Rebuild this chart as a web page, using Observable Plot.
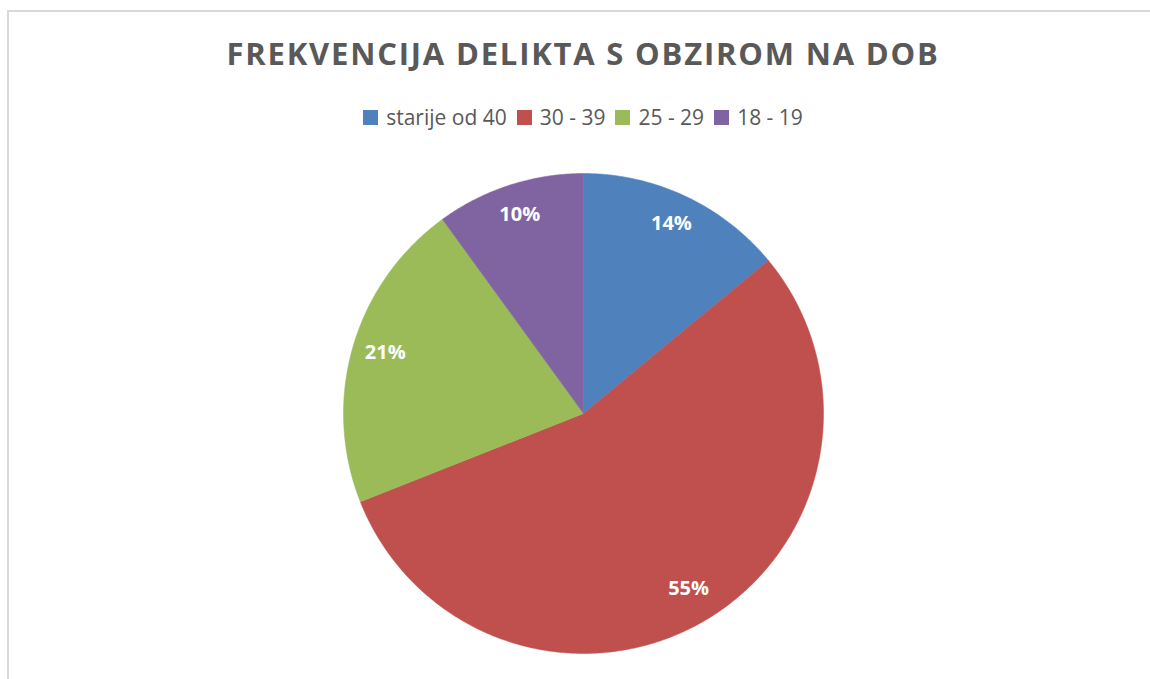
<!DOCTYPE html>
<html>
<head>
<meta charset="utf-8">
<script src="https://cdn.jsdelivr.net/npm/d3@7"></script>
<script src="https://cdn.jsdelivr.net/npm/@observablehq/plot@0.6"></script>
<style>
  html, body { margin: 0; padding: 0; background: #fff; overflow: hidden; width: 1150px; height: 679px; }
  #frame { position: absolute; left: 7px; top: 10px; width: 1200px; height: 700px;
           border-top: 2px solid #d9d9d9; border-left: 2px solid #d9d9d9; }
  #wrap { position: absolute; left: 0; top: 0; width: 1166px; }
  #title { position: absolute; top: 32px; left: 0; width: 1166px; text-align: center;
           font-family: "Open Sans", sans-serif; font-weight: 700; font-size: 31px;
           letter-spacing: 1.8px; color: #595959; }
  #legend { position: absolute; top: 103px; left: 0; width: 1166px; display: flex; justify-content: center;
            font-family: "Open Sans", sans-serif; font-size: 21px; color: #595959; }
  .item { display: flex; align-items: center; margin: 0 5px; }
  .sw { width: 15px; height: 15px; margin-right: 8px; }
  #chart { position: absolute; top: 150px; left: 0; }
</style>
</head>
<body>
<div id="frame"></div>
<div id="wrap">
  <div id="title"></div>
  <div id="legend"></div>
</div>
<div id="chart"></div>
<script>
const title = "FREKVENCIJA DELIKTA S OBZIROM NA DOB";
const categories = ["starije od 40", "30 - 39", "25 - 29", "18 - 19"];
const values = [14, 55, 21, 10];
const colors = ["#4F81BD", "#C0504D", "#9BBB59", "#8064A2"];

document.getElementById("title").textContent = title;
const legend = document.getElementById("legend");
categories.forEach((c, i) => {
  const it = document.createElement("div");
  it.className = "item";
  const sw = document.createElement("div");
  sw.className = "sw";
  sw.style.background = colors[i];
  const tx = document.createElement("span");
  tx.textContent = c;
  it.appendChild(sw); it.appendChild(tx);
  legend.appendChild(it);
});

const data = categories.map((c, i) => ({category: c, value: values[i]}));
const total = d3.sum(values);
const arcs = d3.pie().value(d => d.value).sort(null)(data);

// polygon outline of each slice, derived from the pie angles
const outline = [];
arcs.forEach(a => {
  const key = a.data.category;
  outline.push({key, x: 0, y: 0});
  const n = Math.max(2, Math.ceil((a.endAngle - a.startAngle) / (Math.PI / 360)));
  for (let k = 0; k <= n; k++) {
    const t = a.startAngle + (a.endAngle - a.startAngle) * k / n;
    outline.push({key, x: Math.sin(t), y: Math.cos(t)});
  }
  outline.push({key, x: 0, y: 0});
});

const labels = arcs.map(a => {
  const m = (a.startAngle + a.endAngle) / 2;
  return {text: Math.round(a.data.value / total * 100) + "%", x: 0.86 * Math.sin(m), y: 0.86 * Math.cos(m)};
});

const cx = 583, cy = 263, r = 240;
const plot = Plot.plot({
  width: 1150,
  height: 529,
  margin: 0,
  x: {domain: [-1, 1], range: [cx - r, cx + r], axis: null},
  y: {domain: [-1, 1], range: [cy + r, cy - r], axis: null},
  color: {domain: categories, range: colors},
  style: {background: "transparent"},
  marks: [
    Plot.line(outline, {x: "x", y: "y", z: "key", fill: "key", stroke: "key", strokeWidth: 0.5, curve: "linear"}),
    Plot.text(labels, {x: "x", y: "y", text: "text", fill: "white", fontSize: 20, fontWeight: "bold", dy: -3,
      fontFamily: "Open Sans, sans-serif"})
  ]
});
document.getElementById("chart").appendChild(plot);
</script>
</body>
</html>
